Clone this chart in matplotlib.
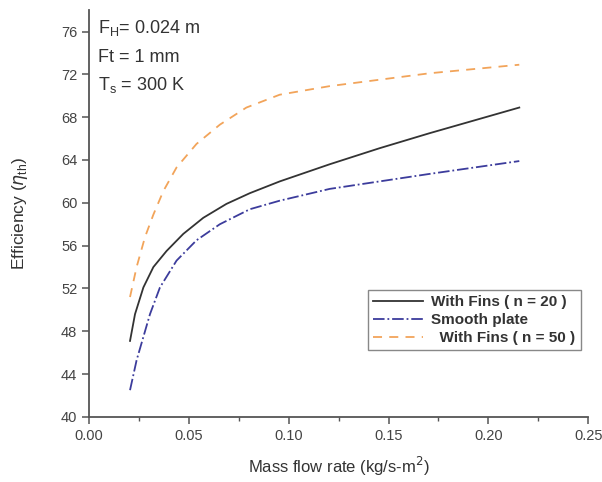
import numpy as np
import matplotlib.pyplot as plt
from matplotlib.ticker import MultipleLocator

plt.rcParams['font.family'] = ['Liberation Sans', 'DejaVu Sans']

# mass flow rate (kg/s-m2) vs efficiency
x_fins20 = [0.0205, 0.023, 0.0272, 0.0322, 0.0388, 0.0472, 0.0572, 0.0688, 0.0805,
            0.0955, 0.1205, 0.1455, 0.1705, 0.2155]
y_fins20 = [47.1, 49.6, 52.1, 54.0, 55.5, 57.1, 58.6, 59.9, 60.9,
            62.0, 63.6, 65.1, 66.5, 68.9]

x_smooth = [0.0205, 0.0238, 0.0305, 0.0355, 0.0438, 0.0538, 0.0655, 0.0805,
            0.0955, 0.1205, 0.1455, 0.1705, 0.2155]
y_smooth = [42.5, 45.3, 49.6, 52.1, 54.6, 56.5, 58.0, 59.4,
            60.2, 61.3, 62.0, 62.7, 63.9]

x_fins50 = [0.0205, 0.0238, 0.028, 0.0322, 0.0372, 0.0438, 0.0538, 0.0655, 0.0788,
            0.0955, 0.1205, 0.1455, 0.1705, 0.2155]
y_fins50 = [51.2, 54.0, 56.8, 58.9, 61.1, 63.3, 65.5, 67.3, 68.9,
            70.1, 70.9, 71.5, 72.1, 72.9]

fig = plt.figure(figsize=(6.02, 4.82), dpi=100)
ax = fig.add_axes([0.148, 0.135, 0.829, 0.844])

ax.plot(x_fins20, y_fins20, '-', color='#333333', lw=1.3, label='With Fins ( n = 20 )')
ax.plot(x_smooth, y_smooth, '-.', color='#3c3c9c', lw=1.3, label='Smooth plate')
ax.plot(x_fins50, y_fins50, '--', color='#f2a45a', lw=1.3, dashes=(5, 4),
        label='  With Fins ( n = 50 )')

ax.set_xlim(0, 0.25)
ax.set_ylim(40, 78)
ax.xaxis.set_major_locator(MultipleLocator(0.05))
ax.xaxis.set_minor_locator(MultipleLocator(0.025))
ax.yaxis.set_major_locator(MultipleLocator(4))
ax.xaxis.set_major_formatter(lambda v, p: f'{v:.2f}')

for s in ['top', 'right']:
    ax.spines[s].set_visible(False)
for s in ['left', 'bottom']:
    ax.spines[s].set_color('#555555')
    ax.spines[s].set_linewidth(1.3)
ax.tick_params(which='major', length=5, width=1.1, color='#555555',
               labelsize=10.5, labelcolor='#444444')
ax.tick_params(which='minor', length=3, width=1.0, color='#555555')

ax.set_xlabel('Mass flow rate (kg/s-m$^2$)', fontsize=12, color='#333333', labelpad=9)
ax.set_ylabel(r'Efficiency ($\eta_{\mathregular{th}}$)', fontsize=12.5, color='#333333', labelpad=22)

ax.text(0.0045, 76.3, '$\\mathregular{F_H}$= 0.024 m', fontsize=13, color='#333333', va='center')
ax.text(0.0045, 73.6, 'Ft = 1 mm', fontsize=13, color='#333333', va='center')
ax.text(0.0045, 71.0, '$\\mathregular{T_s}$ = 300 K', fontsize=13, color='#333333', va='center')

leg = ax.legend(loc='lower right', bbox_to_anchor=(1.0, 0.145), fancybox=False,
                framealpha=1, edgecolor='#888888', prop={'weight': 'bold', 'size': 11},
                handlelength=3.3, borderpad=0.35, labelspacing=0.25, handletextpad=0.5)
for t in leg.get_texts():
    t.set_color('#333333')

fig.savefig('out.png', dpi=100)
